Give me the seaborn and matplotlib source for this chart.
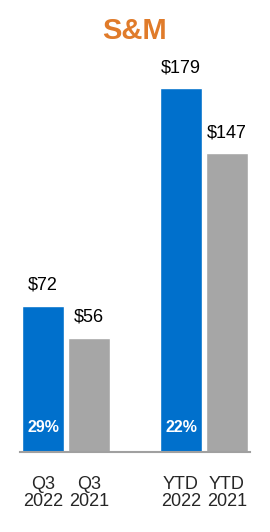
import pandas as pd
import seaborn as sns
import matplotlib.pyplot as plt

# Datos
categorias = ["Q3\n2022", "Q3\n2021", "YTD\n2022", "YTD\n2021"]
valores = [72, 56, 179, 147]
etiquetas = ["$72", "$56", "$179", "$147"]
porcentajes = {"Q3\n2022": "29%", "YTD\n2022": "22%"}
colores = {"Q3\n2022": "#0070CC", "Q3\n2021": "#A6A6A6",
           "YTD\n2022": "#0070CC", "YTD\n2021": "#A6A6A6"}
orden = ["Q3\n2022", "Q3\n2021", " ", "YTD\n2022", "YTD\n2021"]

df = pd.DataFrame({"Periodo": categorias, "Valor": valores})

sns.set_style("white")
plt.rcParams["font.family"] = ["Liberation Sans", "DejaVu Sans"]

fig = plt.figure(figsize=(2.7, 5.32), dpi=100)
ax = fig.add_axes([20 / 270, 80 / 532, 230 / 270, 386 / 532])

sns.barplot(data=df, x="Periodo", y="Valor", order=orden, hue="Periodo",
            palette=colores, legend=False, width=0.91, saturation=1, ax=ax)

ax.set_xlim(-0.5, 4.5)
ax.set_ylim(0, 190)
ax.set_xlabel("")
ax.set_ylabel("")
ax.set_yticks([])
ax.tick_params(axis="x", length=0, labelsize=13, pad=17)
for t in ax.get_xticklabels():
    t.set_linespacing(1.05)
for s in ["top", "left", "right"]:
    ax.spines[s].set_visible(False)
ax.spines["bottom"].set_color("#A0A0A0")
ax.spines["bottom"].set_linewidth(1.5)

pos = {c: orden.index(c) for c in categorias}
for c, v, e in zip(categorias, valores, etiquetas):
    ax.annotate(e, (pos[c], v), xytext=(0, 15), textcoords="offset points",
                ha="center", va="center", fontsize=13, color="black")
    if c in porcentajes:
        ax.text(pos[c], 12, porcentajes[c], ha="center", va="center",
                fontsize=11.5, fontweight="bold", color="white")

fig.text(0.5, 1 - 31 / 532, "S&M", ha="center", va="center",
         fontsize=21, fontweight="bold", color="#E07B2A")

fig.savefig("out.png", dpi=100)
